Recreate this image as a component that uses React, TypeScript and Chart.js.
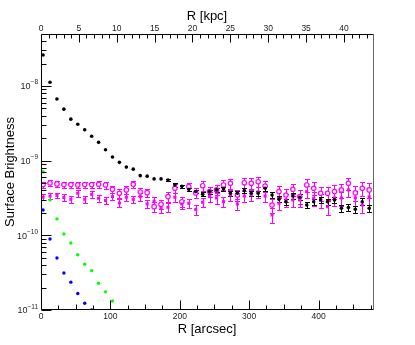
import { useEffect, useRef } from 'react';
import { Chart, registerables } from 'chart.js';

Chart.register(...registerables);

// R [arcsec] positions of the profile points
const xArcsec = [3, 13, 23, 33, 43, 53, 63, 73, 83, 93, 103, 113, 123, 133, 143, 153, 163, 173, 183, 193, 203, 213, 223, 233, 243, 253, 263, 273, 283, 293, 303, 313, 323, 333, 343, 353, 363, 373, 383, 393, 403, 413, 423, 433, 443, 453, 463, 473];

const blackSB = [2.6e-8, 1.12e-8, 6.7e-9, 4.9e-9, 3.6e-9, 3.07e-9, 2.6e-9, 2.12e-9, 1.76e-9, 1.4e-9, 1.12e-9, 9.5e-10, 8.2e-10, 7.7e-10, 6.3e-10, 6.2e-10, 5.7e-10, 5.7e-10, 5.5e-10, 4.73e-10, 4.54e-10, 4.14e-10, 3.85e-10, 3.55e-10, 3.85e-10, 4.06e-10, 4.2e-10, 3.66e-10, 3.66e-10, 3.97e-10, 3.66e-10, 3.66e-10, 4.27e-10, 3.47e-10, 3.04e-10, 2.82e-10, 3.36e-10, 3.24e-10, 2.55e-10, 2.82e-10, 3.0e-10, 2.82e-10, 2.98e-10, 2.31e-10, 2.35e-10, 2.23e-10, 2.82e-10, 2.31e-10];
const blackErr = [0, 0, 0, 0, 0, 0, 0, 0, 0, 0, 0, 0, 0, 0, 0, 0, 0, 0, 0.04, 0.05, 0.05, 0.05, 0.05, 0.06, 0.06, 0.06, 0.07, 0.07, 0.07, 0.07, 0.08, 0.08, 0.08, 0.08, 0.09, 0.09, 0.09, 0.09, 0.09, 0.1, 0.1, 0.1, 0.1, 0.1, 0.11, 0.11, 0.11, 0.11];

const magentaOpenSB = [4.78e-10, 5.03e-10, 4.88e-10, 4.78e-10, 4.78e-10, 4.73e-10, 4.78e-10, 4.78e-10, 4.83e-10, 4.73e-10, 4.14e-10, 3.66e-10, 4.06e-10, 4.83e-10, 3.81e-10, 3.73e-10, 2.42e-10, 2.61e-10, 3.3e-10, 4.27e-10, 2.82e-10, 4.49e-10, 3.7e-10, 4.62e-10, 3.85e-10, 4.06e-10, 4.73e-10, 4.98e-10, 3.47e-10, 5.07e-10, 4.98e-10, 5.23e-10, 4.58e-10, 2.55e-10, 3.85e-10, 3.47e-10, 4.14e-10, 3.3e-10, 4.73e-10, 4.27e-10, 3.66e-10, 3.66e-10, 3.85e-10, 4.06e-10, 4.98e-10, 3.7e-10, 4.27e-10, 4.06e-10];
const magentaOpenErr = [0.1, 0.1, 0.1, 0.1, 0.1, 0.1, 0.1, 0.1, 0.11, 0.11, 0.12, 0.13, 0.13, 0.12, 0.13, 0.13, 0.15, 0.15, 0.14, 0.13, 0.15, 0.13, 0.15, 0.14, 0.15, 0.15, 0.15, 0.15, 0.17, 0.15, 0.16, 0.15, 0.17, 0.22, 0.19, 0.19, 0.19, 0.21, 0.19, 0.2, 0.21, 0.22, 0.21, 0.21, 0.19, 0.22, 0.21, 0.22];

const magentaFilledSB = [3.24e-10, 3.36e-10, 3.43e-10, 3.21e-10, 3.04e-10, 3.66e-10, 3.04e-10, 3.55e-10, 3.14e-10, 2.92e-10, 3.3e-10, 2.71e-10, 3.24e-10, 3.04e-10, 3.3e-10, 2.63e-10, 2.87e-10, 2.35e-10, 2.38e-10, 3.24e-10, 2.63e-10, 2.69e-10, 2.23e-10, 2.77e-10, 3.3e-10, 3.17e-10, 2.82e-10, 3.47e-10, 2.63e-10, 3.36e-10, 3.47e-10, 3.81e-10, 3.36e-10, 1.88e-10, 2.69e-10, 2.98e-10, 2.98e-10, 2.98e-10, 3.85e-10, 3.14e-10, 2.98e-10, 2.42e-10, 3.17e-10, 3.17e-10, 4.06e-10, 3.17e-10, 2.55e-10, 3.27e-10];
const magentaFilledErr = [0.09, 0.09, 0.09, 0.1, 0.1, 0.1, 0.1, 0.1, 0.1, 0.1, 0.11, 0.12, 0.12, 0.12, 0.13, 0.13, 0.13, 0.14, 0.14, 0.13, 0.14, 0.14, 0.15, 0.14, 0.15, 0.16, 0.16, 0.16, 0.17, 0.18, 0.18, 0.18, 0.18, 0.22, 0.2, 0.2, 0.2, 0.2, 0.19, 0.21, 0.21, 0.22, 0.21, 0.21, 0.2, 0.22, 0.23, 0.22];

const xGreen = [3, 13, 23, 33, 43, 53, 63, 73, 83, 93, 103];
const greenSB = [7.1e-10, 2.98e-10, 1.66e-10, 1.04e-10, 7.9e-11, 5.5e-11, 4.1e-11, 3.37e-11, 2.28e-11, 1.75e-11, 1.32e-11];

const xBlue = [3, 13, 23, 33, 43, 53, 63, 73];
const blueSB = [2.18e-10, 8.95e-11, 4.98e-11, 3.13e-11, 2.36e-11, 1.66e-11, 1.23e-11, 1.0e-11];

// axes
const xTickValues = [0, 100, 200, 300, 400];
const xTickLabels = ['0', '100', '200', '300', '400'];
const kpcTickValues = [0, 5, 10, 15, 20, 25, 30, 35, 40];
const kpcTickLabels = ['0', '5', '10', '15', '20', '25', '30', '35', '40'];
const yDecades = [-11, -10, -9, -8];
const yTickExponents = ['\u221211', '\u221210', '\u22129', '\u22128'];

const X_MAX = 478.5;
const KPC_MAX = 43.83;
const Y_MIN = 1e-11;
const Y_MAX = 4.97e-8;

const FONT = '"Liberation Sans", Arial, Helvetica, sans-serif';

const pts = (xs: number[], ys: number[]) => xs.map((x, i) => ({ x, y: ys[i] }));

const errorBarPlugin = {
  id: 'rootErrorBars',
  beforeDatasetsDraw(chart: any) {
    const { ctx, chartArea: a } = chart;
    const xs = chart.scales.x;
    const ys = chart.scales.y;
    ctx.save();
    ctx.beginPath();
    ctx.rect(a.left, a.top, a.right - a.left, a.bottom - a.top);
    ctx.clip();
    const dsList = chart.data.datasets.slice().reverse();
    dsList.forEach((ds: any) => {
      const errs: number[] | undefined = ds.errFrac;
      if (!errs) return;
      ctx.strokeStyle = ds.errColor;
      ctx.lineWidth = 1;
      ds.data.forEach((p: any, i: number) => {
        const e = errs[i];
        if (!e) return;
        const px = Math.round(xs.getPixelForValue(p.x)) + 0.5;
        const yHi = Math.round(ys.getPixelForValue(p.y * (1 + e))) + 0.5;
        const yLo = Math.round(ys.getPixelForValue(p.y * (1 - e))) + 0.5;
        ctx.beginPath();
        ctx.moveTo(px, yHi);
        ctx.lineTo(px, yLo);
        ctx.moveTo(px - 2.5, yHi);
        ctx.lineTo(px + 2.5, yHi);
        ctx.moveTo(px - 2.5, yLo);
        ctx.lineTo(px + 2.5, yLo);
        ctx.stroke();
      });
    });
    ctx.restore();
  },
};

const axesPlugin = {
  id: 'rootAxes',
  afterDraw(chart: any) {
    const { ctx, chartArea: a } = chart;
    const xs = chart.scales.x;
    const xt = chart.scales.xTop;
    const ys = chart.scales.y;
    const L = a.left + 0.5;
    const R = a.right + 0.5;
    const T = a.top + 0.5;
    const B = a.bottom - 0.5;
    ctx.save();
    ctx.lineWidth = 1;

    // frame
    ctx.strokeStyle = '#666';
    ctx.beginPath();
    ctx.moveTo(R, T);
    ctx.lineTo(R, B);
    ctx.stroke();
    ctx.strokeStyle = '#000';
    ctx.beginPath();
    ctx.moveTo(L, T);
    ctx.lineTo(L, B);
    ctx.moveTo(L, B);
    ctx.lineTo(R, B);
    ctx.moveTo(L, T);
    ctx.lineTo(R, T);
    ctx.stroke();

    // bottom ticks (inside)
    ctx.beginPath();
    for (let v = 0; v <= X_MAX; v += 25) {
      const px = Math.round(xs.getPixelForValue(v)) + 0.5;
      const len = v % 100 === 0 ? 9 : v % 50 === 0 ? 5 : 4;
      ctx.moveTo(px, B);
      ctx.lineTo(px, B - len);
    }
    // top ticks (inside)
    for (let k = 0; k <= KPC_MAX; k += 1) {
      const px = Math.round(xt.getPixelForValue(k)) + 0.5;
      const len = k % 5 === 0 ? 8 : 4;
      ctx.moveTo(px, T);
      ctx.lineTo(px, T + len);
    }
    // left ticks (inside)
    for (let d = -11; d <= -8; d++) {
      for (let m = 1; m <= 9; m++) {
        const v = m * Math.pow(10, d);
        if (v < Y_MIN * 0.999 || v > Y_MAX) continue;
        const py = Math.round(ys.getPixelForValue(v)) + 0.5;
        const len = m === 1 ? 10 : 5;
        ctx.moveTo(L, py);
        ctx.lineTo(L + len, py);
      }
    }
    ctx.stroke();

    // tick labels
    ctx.fillStyle = '#222';
    ctx.font = `8.5px ${FONT}`;
    ctx.textAlign = 'center';
    ctx.textBaseline = 'middle';
    xTickValues.forEach((v, i) => {
      ctx.fillText(xTickLabels[i], xs.getPixelForValue(v), a.bottom + 7);
    });
    kpcTickValues.forEach((v, i) => {
      ctx.fillText(kpcTickLabels[i], xt.getPixelForValue(v), a.top - 5);
    });
    yDecades.forEach((d, i) => {
      const py = ys.getPixelForValue(Math.pow(10, d));
      ctx.font = `9px ${FONT}`;
      const wBase = ctx.measureText('10').width;
      ctx.font = `6.5px ${FONT}`;
      const wExp = ctx.measureText(yTickExponents[i]).width;
      const right = a.left - 3;
      const x0 = right - wBase - wExp;
      ctx.textAlign = 'left';
      ctx.textBaseline = 'alphabetic';
      ctx.font = `9px ${FONT}`;
      ctx.fillText('10', x0, py + 3.3);
      ctx.font = `6.5px ${FONT}`;
      ctx.fillText(yTickExponents[i], x0 + wBase, py - 1.5);
    });

    // axis titles
    ctx.fillStyle = '#000';
    ctx.font = `13px ${FONT}`;
    ctx.textAlign = 'center';
    ctx.textBaseline = 'middle';
    const cx = (a.left + a.right) / 2;
    ctx.fillText('R [arcsec]', cx, a.bottom + 19);
    ctx.fillText('R [kpc]', cx, 16);
    ctx.translate(10, (a.top + a.bottom) / 2);
    ctx.rotate(-Math.PI / 2);
    ctx.fillText('Surface Brightness', 0, 0);
    ctx.restore();
  },
};

export default function App() {
  const ref = useRef<HTMLCanvasElement | null>(null);
  useEffect(() => {
    if (!ref.current) return;
    const chart = new Chart(ref.current, {
      type: 'scatter',
      data: {
        datasets: [
          {
            label: 'black',
            data: pts(xArcsec, blackSB),
            pointRadius: 1.8,
            pointStyle: 'circle',
            backgroundColor: '#000',
            borderColor: '#000',
            borderWidth: 0,
            errFrac: blackErr,
            errColor: '#000',
          } as any,
          {
            label: 'magenta filled',
            data: pts(xArcsec, magentaFilledSB),
            pointRadius: 2.2,
            pointStyle: 'rect',
            backgroundColor: '#ff00ff',
            borderColor: '#ff00ff',
            borderWidth: 0,
            errFrac: magentaFilledErr,
            errColor: '#ff00ff',
          } as any,
          {
            label: 'magenta open',
            data: pts(xArcsec, magentaOpenSB),
            pointRadius: 2.2,
            pointStyle: 'circle',
            backgroundColor: '#ffffff',
            borderColor: '#ff00ff',
            borderWidth: 1.2,
            errFrac: magentaOpenErr,
            errColor: '#ff00ff',
          } as any,
          {
            label: 'green',
            data: pts(xGreen, greenSB),
            pointRadius: 1.7,
            backgroundColor: '#00ff00',
            borderColor: '#00ff00',
            borderWidth: 0,
          },
          {
            label: 'blue',
            data: pts(xBlue, blueSB),
            pointRadius: 1.7,
            backgroundColor: '#0000ff',
            borderColor: '#0000ff',
            borderWidth: 0,
          },
        ],
      },
      options: {
        animation: false,
        responsive: false,
        devicePixelRatio: 1,
        events: [],
        layout: { padding: { left: 0, right: 42, top: 0, bottom: 0 } },
        plugins: { legend: { display: false }, tooltip: { enabled: false } },
        scales: {
          x: {
            type: 'linear',
            position: 'bottom',
            min: 0,
            max: X_MAX,
            grid: { display: false },
            border: { display: false },
            ticks: { display: false },
            afterFit: (s: any) => { s.height = 35; },
          },
          xTop: {
            type: 'linear',
            position: 'top',
            min: 0,
            max: KPC_MAX,
            grid: { display: false },
            border: { display: false },
            ticks: { display: false },
            afterFit: (s: any) => { s.height = 34; },
          },
          y: {
            type: 'logarithmic',
            position: 'left',
            min: Y_MIN,
            max: Y_MAX,
            grid: { display: false },
            border: { display: false },
            ticks: { display: false },
            afterFit: (s: any) => { s.width = 41; },
          },
        },
      } as any,
      plugins: [errorBarPlugin, axesPlugin],
    });
    return () => chart.destroy();
  }, []);
  return (
    <div style={{ position: 'fixed', left: 0, top: 0, width: 415, height: 345, background: '#fff' }}>
      <canvas ref={ref} width={415} height={345} />
    </div>
  );
}
